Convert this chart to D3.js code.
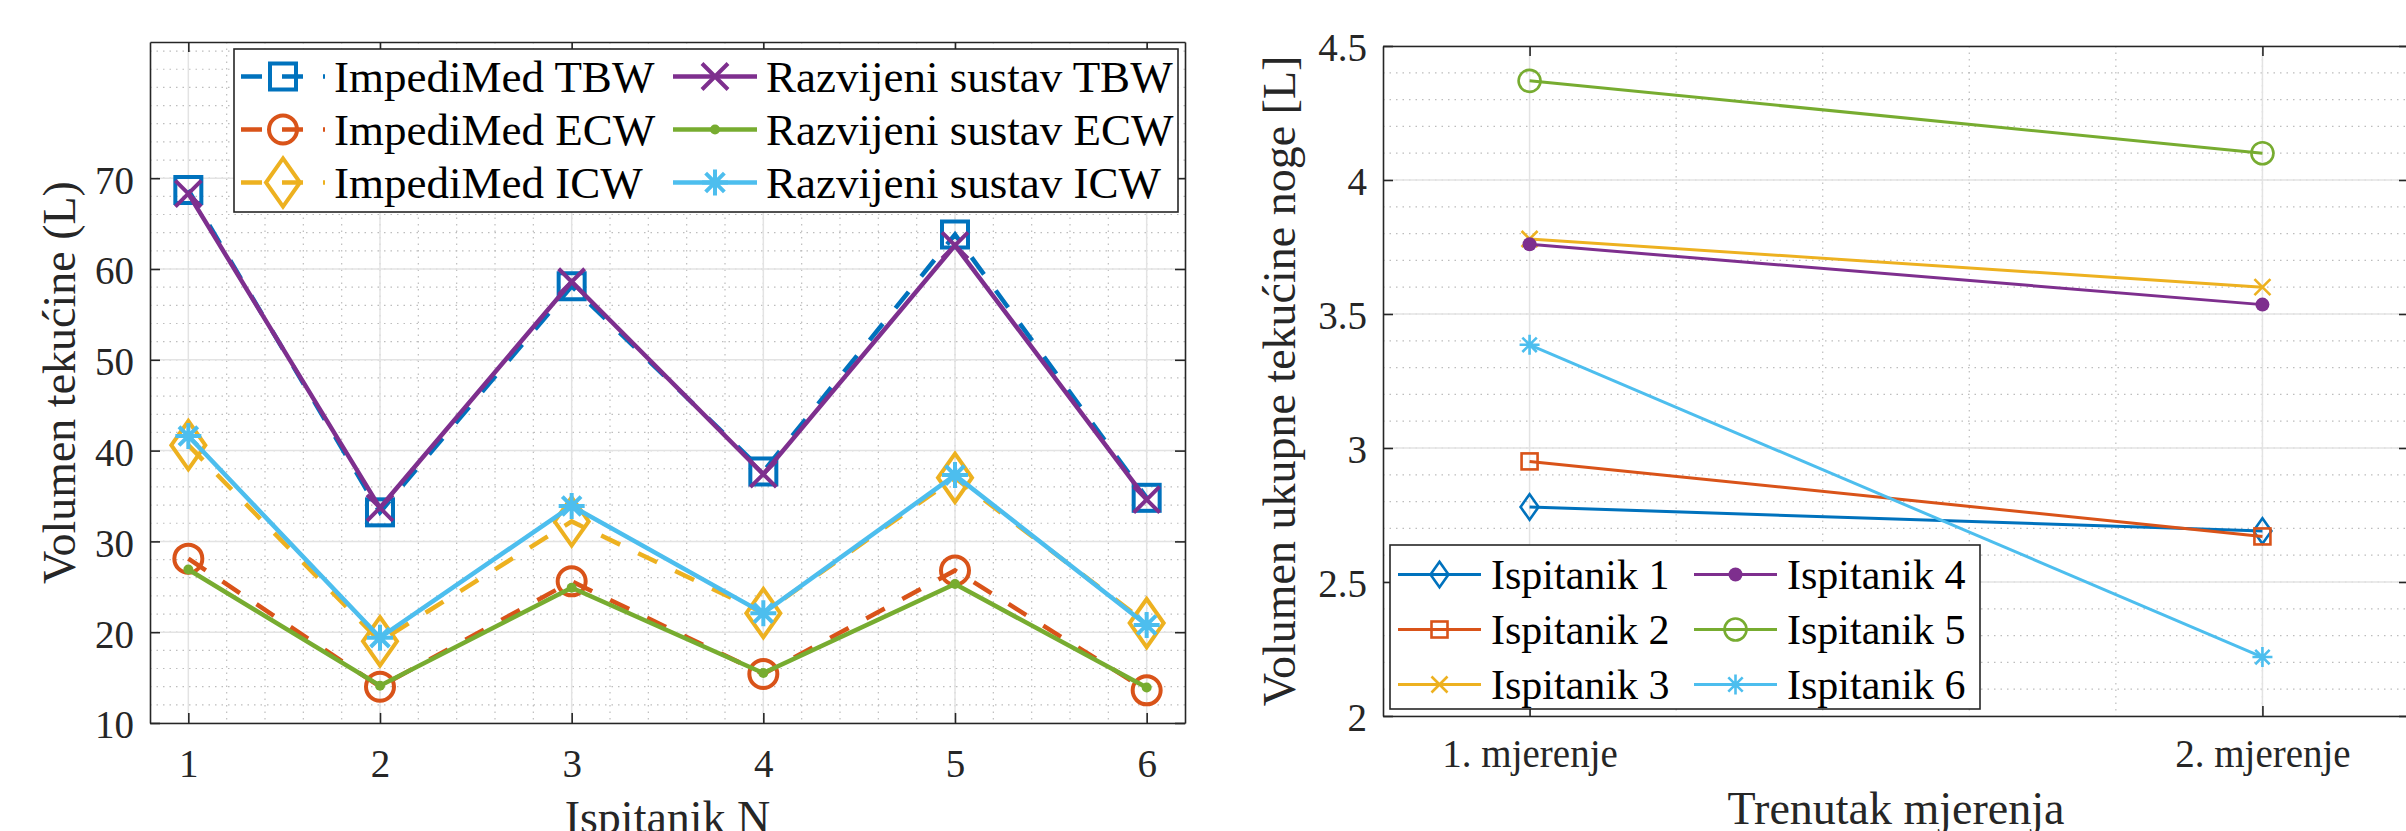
<!DOCTYPE html>
<html>
<head>
<meta charset="utf-8">
<script src="https://cdn.jsdelivr.net/npm/d3@7"></script>
<style>
  body { margin: 0; background: #fff; }
  svg { display: block; }
  svg text { font-family: "Liberation Serif", "Times New Roman", serif; }
</style>
</head>
<body>
<div class="chart"></div>
<script>
// ---- lijevi graf: volumen tekucine po ispitaniku ----
const subjects = [1, 2, 3, 4, 5, 6];
const impTBW = [68.7, 33.2, 58.1, 37.7, 63.8, 34.8];
const impECW = [28.1, 14.0, 25.6, 15.4, 26.8, 13.6];
const impICW = [40.6, 19.0, 32.2, 22.1, 37.0, 21.0];
const razTBW = [68.3, 33.7, 58.6, 37.4, 62.6, 34.6];
const razECW = [26.9, 14.1, 24.9, 15.5, 25.3, 13.9];
const razICW = [41.6, 19.4, 33.9, 22.1, 37.3, 20.8];
const leftNames = ['ImpediMed TBW', 'ImpediMed ECW', 'ImpediMed ICW',
                   'Razvijeni sustav TBW', 'Razvijeni sustav ECW', 'Razvijeni sustav ICW'];
const leftYTicks = [10, 20, 30, 40, 50, 60, 70];

// ---- desni graf: dva mjerenja ----
const sessions = ['1. mjerenje', '2. mjerenje'];
const isp1 = [2.78, 2.69];
const isp2 = [2.95, 2.67];
const isp3 = [3.78, 3.60];
const isp4 = [3.76, 3.535];
const isp5 = [4.37, 4.10];
const isp6 = [3.385, 2.22];
const rightNames = ['Ispitanik 1', 'Ispitanik 2', 'Ispitanik 3', 'Ispitanik 4', 'Ispitanik 5', 'Ispitanik 6'];
const rightYTicks = [2, 2.5, 3, 3.5, 4, 4.5];

// MATLAB boje
const C = ['#0072BD', '#D95319', '#EDB120', '#7E2F8E', '#77AC30', '#4DBEEE'];
const FONT = '"Liberation Serif", "Times New Roman", serif';

const svg = d3.select('.chart').append('svg')
  .attr('width', 2406)
  .attr('height', 831);
svg.append('rect').attr('width', 2406).attr('height', 831).attr('fill', '#fff');

// crtanje markera
function marker(g, type, x, y, s, color, sw) {
  if (type === 'square') {
    g.append('rect').attr('x', x - s).attr('y', y - s).attr('width', 2 * s).attr('height', 2 * s)
      .attr('fill', 'none').attr('stroke', color).attr('stroke-width', sw);
  } else if (type === 'circle') {
    g.append('circle').attr('cx', x).attr('cy', y).attr('r', s)
      .attr('fill', 'none').attr('stroke', color).attr('stroke-width', sw);
  } else if (type === 'diamond') {
    let h = s * 1.42;
    g.append('path').attr('d', `M${x},${y - h}L${x + s},${y}L${x},${y + h}L${x - s},${y}Z`)
      .attr('fill', 'none').attr('stroke', color).attr('stroke-width', sw);
  } else if (type === 'x') {
    g.append('path').attr('d', `M${x - s},${y - s}L${x + s},${y + s}M${x - s},${y + s}L${x + s},${y - s}`)
      .attr('stroke', color).attr('stroke-width', sw);
  } else if (type === 'star') {
    let d = s * 0.72;
    g.append('path').attr('d', `M${x - d},${y - d}L${x + d},${y + d}M${x - d},${y + d}L${x + d},${y - d}M${x},${y - s}L${x},${y + s}M${x - s},${y}L${x + s},${y}`)
      .attr('stroke', color).attr('stroke-width', sw);
  } else if (type === 'dot') {
    g.append('circle').attr('cx', x).attr('cy', y).attr('r', s).attr('fill', color);
  }
}

function drawPanel(cfg) {
  const g = svg.append('g');
  const x = d3.scaleLinear().domain(cfg.xDomain).range([cfg.x0, cfg.x1]);
  const y = d3.scaleLinear().domain(cfg.yDomain).range([cfg.y1, cfg.y0]);

  // manja mreza (tockasto)
  const grid = g.append('g').attr('class', 'grid');
  grid.selectAll('line.mx').data(cfg.xMinor).enter().append('line')
    .attr('x1', d => x(d)).attr('x2', d => x(d)).attr('y1', cfg.y0).attr('y2', cfg.y1)
    .attr('stroke', '#bdbdbd').attr('stroke-width', 1.2).attr('stroke-dasharray', '1.5,5');
  grid.selectAll('line.my').data(cfg.yMinor).enter().append('line')
    .attr('y1', d => y(d)).attr('y2', d => y(d)).attr('x1', cfg.x0).attr('x2', cfg.x1)
    .attr('stroke', '#bdbdbd').attr('stroke-width', 1.2).attr('stroke-dasharray', '1.5,5');
  // glavna mreza
  grid.selectAll('line.gx').data(cfg.xTicks).enter().append('line')
    .attr('x1', d => x(d)).attr('x2', d => x(d)).attr('y1', cfg.y0).attr('y2', cfg.y1)
    .attr('stroke', '#e3e3e3').attr('stroke-width', 1.5);
  grid.selectAll('line.gy').data(cfg.yTicks).enter().append('line')
    .attr('y1', d => y(d)).attr('y2', d => y(d)).attr('x1', cfg.x0).attr('x2', cfg.x1)
    .attr('stroke', '#e3e3e3').attr('stroke-width', 1.5);

  // osi
  const xAxis = d3.axisBottom(x).tickValues(cfg.xTicks).tickFormat(cfg.xFormat)
    .tickSizeInner(-10).tickSizeOuter(0).tickPadding(cfg.xPad);
  const yAxis = d3.axisLeft(y).tickValues(cfg.yTicks).tickFormat(d3.format('')).tickSizeInner(-10)
    .tickSizeOuter(0).tickPadding(16);
  const axes = [
    g.append('g').attr('class', 'axis').attr('transform', `translate(0,${cfg.y1})`).call(xAxis),
    g.append('g').attr('class', 'axis').attr('transform', `translate(${cfg.x0},0)`).call(yAxis),
    g.append('g').attr('class', 'axis').attr('transform', `translate(0,${cfg.y0})`)
      .call(d3.axisTop(x).tickValues(cfg.xTicks).tickFormat('').tickSizeInner(-10).tickSizeOuter(0)),
    g.append('g').attr('class', 'axis').attr('transform', `translate(${cfg.x1},0)`)
      .call(d3.axisRight(y).tickValues(cfg.yTicks).tickFormat('').tickSizeInner(-10).tickSizeOuter(0))
  ];
  axes.forEach(a => {
    a.attr('font-family', FONT).attr('font-size', 39);
    a.selectAll('path.domain').attr('stroke', '#262626').attr('stroke-width', 1.6);
    a.selectAll('.tick line').attr('stroke', '#262626').attr('stroke-width', 1.6);
    a.selectAll('text').attr('fill', '#262626')
      .style('font-size', '39px').style('font-family', FONT);
  });
  axes[1].selectAll('text').attr('dy', '0.38em');

  // linije i markeri
  const line = d3.line().x(d => x(d[0])).y(d => y(d[1]));
  const plot = g.append('g');
  cfg.series.forEach((s, i) => {
    const st = cfg.styles[i];
    const pts = cfg.xs.map((v, j) => [v, s[j]]);
    plot.append('path').datum(pts).attr('d', line)
      .attr('fill', 'none').attr('stroke', st.color).attr('stroke-width', cfg.lw)
      .attr('stroke-dasharray', st.dash ? cfg.dash : null);
    pts.forEach(p => marker(plot, st.marker, x(p[0]), y(p[1]), st.size, st.color, cfg.msw));
  });

  // naslovi osi
  g.append('text').attr('x', (cfg.x0 + cfg.x1) / 2).attr('y', cfg.xLabelY)
    .attr('text-anchor', 'middle').style('font-size', '46px').style('font-family', FONT)
    .attr('fill', '#262626').text(cfg.xLabel);
  g.append('text').attr('transform', `translate(${cfg.yLabelX},${(cfg.y0 + cfg.y1) / 2}) rotate(-90)`)
    .attr('text-anchor', 'middle').style('font-size', '46px').style('font-family', FONT)
    .attr('fill', '#262626').text(cfg.yLabel);

  // legenda
  const L = cfg.legend;
  const leg = g.append('g');
  leg.append('rect').attr('x', L.x).attr('y', L.y).attr('width', L.w).attr('height', L.h)
    .attr('fill', '#fff').attr('stroke', '#262626').attr('stroke-width', 1.6);
  cfg.names.forEach((name, i) => {
    const st = cfg.styles[i];
    const col = Math.floor(i / 3), row = i % 3;
    const lx = L.cols[col], cy = L.y + L.first + row * L.rowH;
    leg.append('line').attr('x1', lx).attr('x2', lx + L.icon).attr('y1', cy).attr('y2', cy)
      .attr('stroke', st.color).attr('stroke-width', cfg.lw)
      .attr('stroke-dasharray', st.dash ? cfg.dash : null);
    marker(leg, st.marker, lx + L.icon / 2, cy, st.size, st.color, cfg.msw);
    leg.append('text').attr('x', lx + L.textOff).attr('y', cy + L.font * 0.34)
      .style('font-size', L.font + 'px').style('font-family', FONT)
      .attr('fill', '#000').text(name);
  });
}

drawPanel({
  x0: 150, x1: 1185, y0: 42, y1: 723,
  xDomain: [0.8, 6.2], yDomain: [10, 85],
  xs: subjects,
  xTicks: subjects, yTicks: leftYTicks,
  xMinor: d3.range(1.2, 6.2, 0.2), yMinor: d3.range(12, 85, 2),
  xFormat: d3.format('d'), xPad: 26,
  series: [impTBW, impECW, impICW, razTBW, razECW, razICW],
  styles: [
    { color: C[0], marker: 'square', size: 13, dash: true },
    { color: C[1], marker: 'circle', size: 14, dash: true },
    { color: C[2], marker: 'diamond', size: 17, dash: true },
    { color: C[3], marker: 'x', size: 13, dash: false },
    { color: C[4], marker: 'dot', size: 5, dash: false },
    { color: C[5], marker: 'star', size: 13, dash: false }
  ],
  lw: 4.5, msw: 4, dash: '21,20',
  names: leftNames,
  xLabel: 'Ispitanik N', xLabelY: 833,
  yLabel: 'Volumen tekućine (L)', yLabelX: 75,
  legend: { x: 234, y: 49, w: 944, h: 163, cols: [241, 673], icon: 84, textOff: 93,
            first: 27.5, rowH: 53, font: 45 }
});

drawPanel({
  x0: 1383, x1: 2409, y0: 46, y1: 716,
  xDomain: [0.8, 2.2], yDomain: [2, 4.5],
  xs: [1, 2],
  xTicks: [1, 2], yTicks: rightYTicks,
  xMinor: d3.range(1.2, 2.2, 0.2), yMinor: d3.range(2.1, 4.5, 0.1),
  xFormat: (d, i) => sessions[i], xPad: 23,
  series: [isp1, isp2, isp3, isp4, isp5, isp6],
  styles: [
    { color: C[0], marker: 'diamond', size: 9, dash: false },
    { color: C[1], marker: 'square', size: 8, dash: false },
    { color: C[2], marker: 'x', size: 8, dash: false },
    { color: C[3], marker: 'dot', size: 7, dash: false },
    { color: C[4], marker: 'circle', size: 11, dash: false },
    { color: C[5], marker: 'star', size: 10, dash: false }
  ],
  lw: 3, msw: 2.6, dash: null,
  names: rightNames,
  xLabel: 'Trenutak mjerenja', xLabelY: 824,
  yLabel: 'Volumen ukupne tekućine noge [L]', yLabelX: 1295,
  legend: { x: 1390, y: 545, w: 590, h: 164, cols: [1398, 1694], icon: 83, textOff: 93,
            first: 29.5, rowH: 55, font: 42 }
});
</script>
</body>
</html>
